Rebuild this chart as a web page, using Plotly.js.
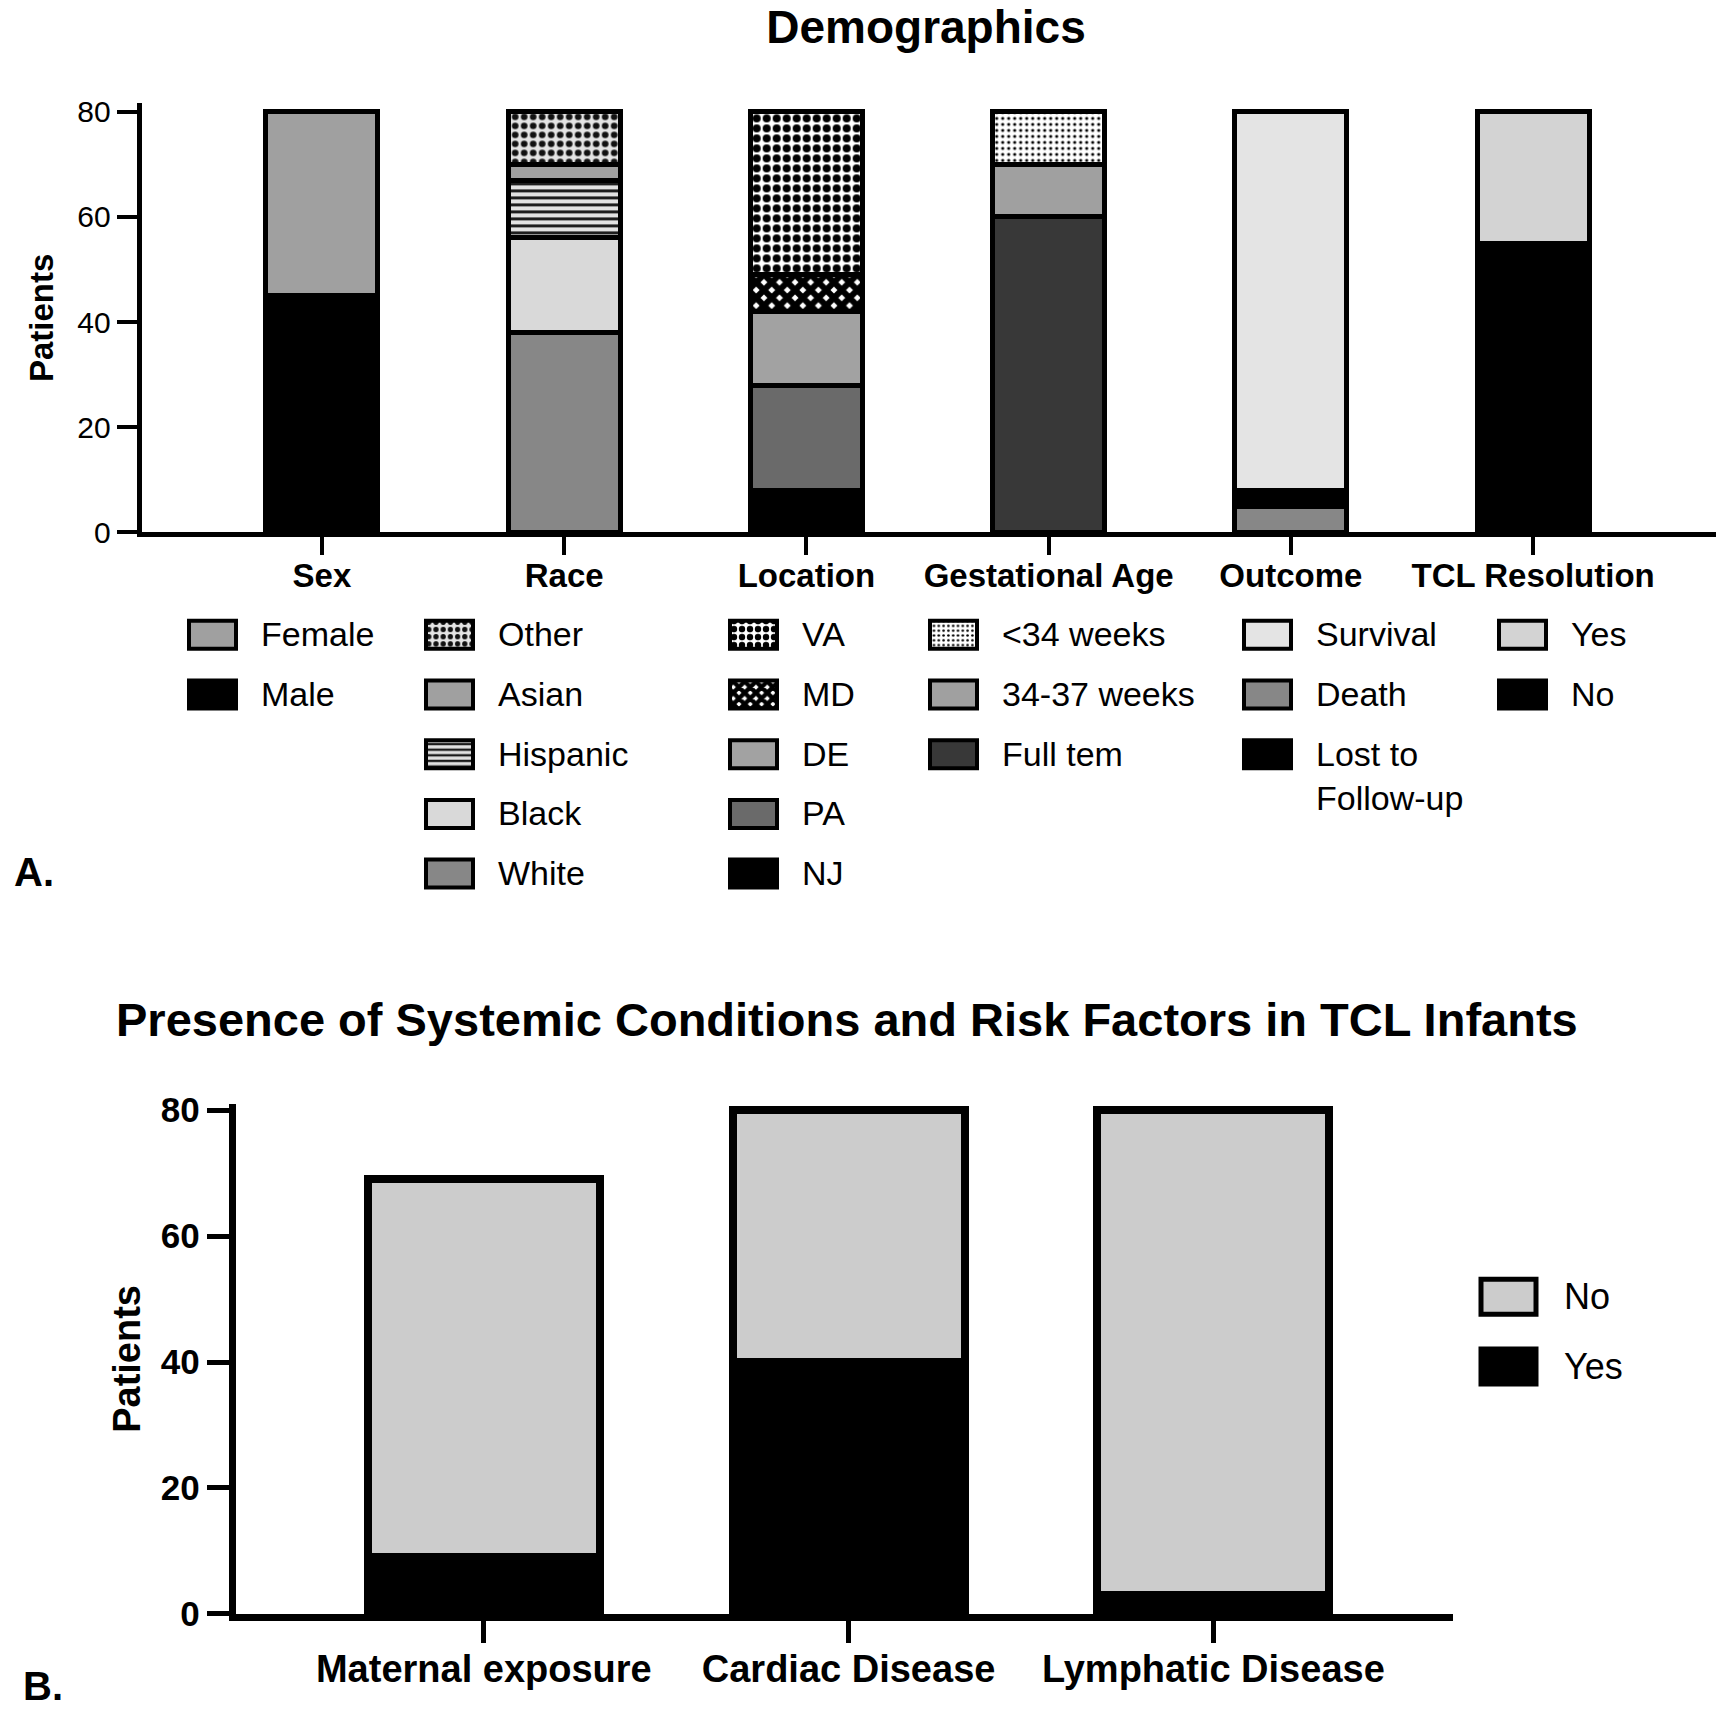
<!DOCTYPE html>
<html>
<head>
<meta charset="utf-8">
<script src="https://cdn.plot.ly/plotly-3.0.1.min.js"></script>
<style>html,body{margin:0;padding:0;background:#fff;}</style>
</head>
<body>
<div id="chart" style="width:1719px;height:1736px;"></div>
<script>
// ---------------- DATA ----------------
const topCategories = ['Sex', 'Race', 'Location', 'Gestational Age', 'Outcome', 'TCL Resolution'];

// stacked bottom -> top
const sexLabels = ['Male', 'Female'];
const sexValues = [45, 35];

const raceLabels = ['White', 'Black', 'Hispanic', 'Asian', 'Other'];
const raceValues = [38, 18, 11, 3, 10];

const locationLabels = ['NJ', 'PA', 'DE', 'MD', 'VA'];
const locationValues = [8, 20, 14, 7, 31];

const gestLabels = ['Full tem', '34-37 weeks', '<34 weeks'];
const gestValues = [60, 10, 10];

const outcomeLabels = ['Death', 'Lost to<br>Follow-up', 'Survival'];
const outcomeValues = [5, 3, 72];

const tclLabels = ['No', 'Yes'];
const tclValues = [55, 25];

const bottomCategories = ['Maternal exposure', 'Cardiac Disease', 'Lymphatic Disease'];
const bottomSeries = ['Yes', 'No'];
const yesValues = [9, 40, 3];
const noValues = [60, 40, 77];

// legend display order (top -> bottom)
const sexLegendOrder = ['Female', 'Male'];
const raceLegendOrder = ['Other', 'Asian', 'Hispanic', 'Black', 'White'];
const locationLegendOrder = ['VA', 'MD', 'DE', 'PA', 'NJ'];
const gestLegendOrder = ['<34 weeks', '34-37 weeks', 'Full tem'];
const outcomeLegendOrder = ['Survival', 'Death', 'Lost to<br>Follow-up'];
const tclLegendOrder = ['Yes', 'No'];
const bottomLegendOrder = ['No', 'Yes'];

// ---------------- STYLES ----------------
const W = 1719, H = 1736;
const FONT = 'Arial, "Liberation Sans", Helvetica, sans-serif';

const sexStyles = [{color: '#000000'}, {color: '#a0a0a0'}];
const raceStyles = [
  {color: '#878787'},
  {color: '#d9d9d9'},
  {color: '#dddddd', pattern: {shape: '-', fgcolor: '#1a1a1a', bgcolor: '#e2e2e2', size: 7, solidity: 0.42, fillmode: 'replace'}},
  {color: '#a0a0a0'},
  {color: '#e6e6e6', pattern: {shape: '.', fgcolor: '#111111', bgcolor: '#e4e4e4', size: 9, solidity: 0.42, fillmode: 'replace'}}
];
const locationStyles = [
  {color: '#000000'},
  {color: '#6a6a6a'},
  {color: '#a2a2a2'},
  {color: '#222222', pattern: {shape: 'x', fgcolor: '#000000', bgcolor: '#ffffff', size: 11, solidity: 0.8, fillmode: 'replace'}},
  {color: '#ffffff', pattern: {shape: '.', fgcolor: '#000000', bgcolor: '#ffffff', size: 10, solidity: 0.5, fillmode: 'replace'}}
];
const gestStyles = [
  {color: '#383838'},
  {color: '#a0a0a0'},
  {color: '#ffffff', pattern: {shape: '.', fgcolor: '#000000', bgcolor: '#ffffff', size: 6, solidity: 0.22, fillmode: 'replace'}}
];
const outcomeStyles = [{color: '#878787'}, {color: '#000000'}, {color: '#e4e4e4'}];
const tclStyles = [{color: '#000000'}, {color: '#d3d3d3'}];
const bottomStyles = [{color: '#000000'}, {color: '#cccccc'}];

// ---------------- TRACES ----------------
const data = [];
function addGroup(cat, labels, values, styles, order, legendId) {
  labels.forEach((lab, i) => {
    const st = styles[i];
    const marker = {color: st.color, line: {color: '#000000', width: 5}};
    if (st.pattern) marker.pattern = st.pattern;
    data.push({
      type: 'bar', x: [cat], y: [values[i]], name: lab,
      xaxis: 'x', yaxis: 'y', width: 0.462,
      legend: legendId, legendgroup: legendId + '_' + i, legendrank: order.indexOf(lab) + 1,
      marker: marker, hoverinfo: 'skip'
    });
  });
}
addGroup(topCategories[0], sexLabels, sexValues, sexStyles, sexLegendOrder, 'legend');
addGroup(topCategories[1], raceLabels, raceValues, raceStyles, raceLegendOrder, 'legend2');
addGroup(topCategories[2], locationLabels, locationValues, locationStyles, locationLegendOrder, 'legend3');
addGroup(topCategories[3], gestLabels, gestValues, gestStyles, gestLegendOrder, 'legend4');
addGroup(topCategories[4], outcomeLabels, outcomeValues, outcomeStyles, outcomeLegendOrder, 'legend5');
addGroup(topCategories[5], tclLabels, tclValues, tclStyles, tclLegendOrder, 'legend6');

[yesValues, noValues].forEach((vals, i) => {
  data.push({
    type: 'bar', x: bottomCategories, y: vals, name: bottomSeries[i],
    xaxis: 'x2', yaxis: 'y2', width: 0.636,
    legend: 'legend7', legendgroup: 'b_' + i, legendrank: bottomLegendOrder.indexOf(bottomSeries[i]) + 1,
    marker: {color: bottomStyles[i].color, line: {color: '#000000', width: 8}}, hoverinfo: 'skip'
  });
});

// ---------------- LAYOUT ----------------
function topLegend(textXpx) {
  return {
    x: (textXpx - 80) / W, xanchor: 'left', y: 1 - 604.5 / H, yanchor: 'top',
    bgcolor: 'rgba(0,0,0,0)', borderwidth: 0, itemwidth: 70,
    traceorder: 'grouped', tracegroupgap: 12.5,
    font: {family: FONT, size: 34, color: '#000'}
  };
}

const layout = {
  width: W, height: H,
  margin: {l: 0, r: 0, t: 0, b: 0},
  paper_bgcolor: '#ffffff', plot_bgcolor: 'rgba(0,0,0,0)',
  font: {family: FONT, color: '#000000'},
  barmode: 'stack', bargap: 0,
  showlegend: true,
  title: {
    text: 'Demographics', x: 926 / W, xanchor: 'center', y: 1 - 27 / H, yanchor: 'middle',
    font: {family: FONT, size: 46, weight: 700, color: '#000'}
  },
  xaxis: {
    domain: [141.7 / W, 1716 / W], anchor: 'y', type: 'category',
    categoryorder: 'array', categoryarray: topCategories, range: [-0.744, 5.755],
    showline: true, linewidth: 5, linecolor: '#000', showgrid: false, zeroline: false,
    ticks: 'outside', ticklen: 18, tickwidth: 4, tickcolor: '#000', ticklabelstandoff: -8,
    tickfont: {family: FONT, size: 33, weight: 700, color: '#000'}, fixedrange: true
  },
  yaxis: {
    domain: [1 - 532.4 / H, 1 - 103.4 / H], anchor: 'x', range: [0, 81.6],
    tickvals: [0, 20, 40, 60, 80],
    showline: true, linewidth: 5, linecolor: '#000', showgrid: false, zeroline: false,
    ticks: 'outside', ticklen: 20, tickwidth: 4, tickcolor: '#000',
    tickfont: {family: FONT, size: 30, color: '#000'},
    title: {text: 'Patients', standoff: 15, font: {family: FONT, size: 33, weight: 700, color: '#000'}},
    fixedrange: true
  },
  xaxis2: {
    domain: [235.8 / W, 1453 / W], anchor: 'y2', type: 'category',
    categoryorder: 'array', categoryarray: bottomCategories, range: [-0.68, 2.657],
    showline: true, linewidth: 7, linecolor: '#000', showgrid: false, zeroline: false,
    ticks: 'outside', ticklen: 22, tickwidth: 5, tickcolor: '#000', ticklabelstandoff: -7,
    tickfont: {family: FONT, size: 38, weight: 700, color: '#000'}, fixedrange: true
  },
  yaxis2: {
    domain: [1 - 1613.9 / H, 1 - 1103.9 / H], anchor: 'x2', range: [0, 81],
    tickvals: [0, 20, 40, 60, 80],
    showline: true, linewidth: 7, linecolor: '#000', showgrid: false, zeroline: false,
    ticks: 'outside', ticklen: 22, tickwidth: 5, tickcolor: '#000',
    tickfont: {family: FONT, size: 35, weight: 700, color: '#000'},
    title: {text: 'Patients', standoff: 11, font: {family: FONT, size: 38, weight: 700, color: '#000'}},
    fixedrange: true
  },
  legend: topLegend(261),
  legend2: topLegend(498),
  legend3: topLegend(802),
  legend4: topLegend(1002),
  legend5: topLegend(1316),
  legend6: topLegend(1571),
  legend7: {
    x: (1564 - 90) / W, xanchor: 'left', y: 1 - 1265 / H, yanchor: 'top',
    bgcolor: 'rgba(0,0,0,0)', borderwidth: 0, itemwidth: 80,
    traceorder: 'grouped', tracegroupgap: 20,
    font: {family: FONT, size: 36, color: '#000'}
  },
  annotations: [
    {text: 'Presence of Systemic Conditions and Risk Factors in TCL Infants', xref: 'paper', yref: 'paper',
     x: 847 / W, y: 1 - 1020 / H, xanchor: 'center', yanchor: 'middle', showarrow: false,
     font: {family: FONT, size: 47, weight: 700, color: '#000'}},
    {text: 'A.', xref: 'paper', yref: 'paper', x: 12 / W, y: 1 - 872 / H, xanchor: 'left', yanchor: 'middle',
     showarrow: false, font: {family: FONT, size: 40, weight: 700, color: '#000'}},
    {text: 'B.', xref: 'paper', yref: 'paper', x: 21 / W, y: 1 - 1686 / H, xanchor: 'left', yanchor: 'middle',
     showarrow: false, font: {family: FONT, size: 40, weight: 700, color: '#000'}}
  ]
};

// enlarge legend swatches to the wide boxes of the original
function fixLegends() {
  const gd = document.getElementById('chart');
  const svg = gd.querySelector('svg.main-svg');
  gd.querySelectorAll('g.traces').forEach(item => {
    try {
      const text = item.querySelector('text');
      const paths = item.querySelectorAll('.legendpoints path');
      if (!text || !paths.length) return;
      let isBottom = false;
      let node = item;
      while (node && node.getAttribute) {
        const cls = node.getAttribute('class');
        if (cls && /\blegend7\b/.test(cls)) { isBottom = true; break; }
        node = node.parentNode;
      }
      const fs = isBottom ? 36 : 34;
      const offL = isBottom ? 83 : 72, w = isBottom ? 55 : 47, h = isBottom ? 35 : 28;
      const tx = parseFloat(text.getAttribute('x')) || 0;
      const ty = parseFloat(text.getAttribute('y')) || 0;
      paths.forEach(path => {
        path.setAttribute('transform', '');
        const parent = path.parentNode;
        const m = parent.getCTM().inverse().multiply(text.getCTM());
        let pt = svg.createSVGPoint();
        pt.x = tx; pt.y = ty - 0.34 * fs;
        pt = pt.matrixTransform(m);
        const x0 = pt.x - offL, cy = pt.y;
        path.setAttribute('d', 'M' + x0 + ',' + (cy - h / 2) + 'H' + (x0 + w) + 'V' + (cy + h / 2) + 'H' + x0 + 'Z');
        path.style.strokeWidth = isBottom ? '5px' : '4px';
        path.style.stroke = '#000';
      });
    } catch (e) { /* keep default symbol */ }
  });
}

Plotly.newPlot('chart', data, layout, {staticPlot: true, displayModeBar: false}).then(gd => {
  fixLegends();
  requestAnimationFrame(fixLegends);
  setTimeout(fixLegends, 50);
});
</script>
</body>
</html>
